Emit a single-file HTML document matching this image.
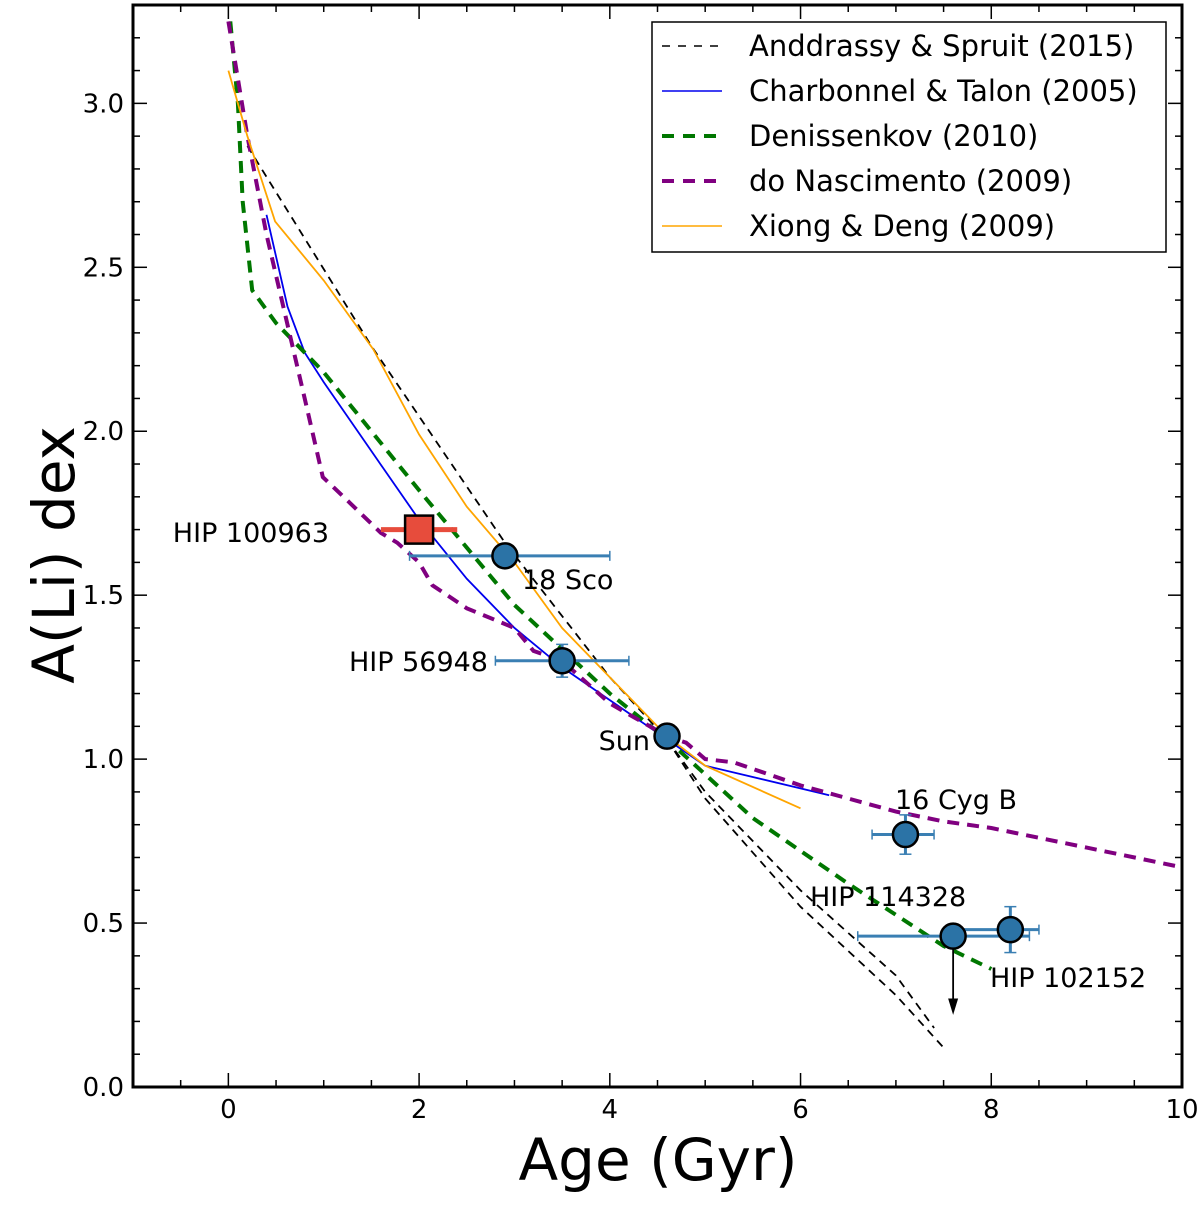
<!DOCTYPE html>
<html><head><meta charset="utf-8"><style>
html,body{margin:0;padding:0;background:#fff;}
svg{display:block;font-family:"DejaVu Sans","Liberation Sans",sans-serif;}
</style></head><body>
<svg id="chart" width="1200" height="1210" viewBox="0 0 1200 1210"></svg>
<script>
// ---- data ----
const xTicks = [0, 2, 4, 6, 8, 10];
const yTicks = [0.0, 0.5, 1.0, 1.5, 2.0, 2.5, 3.0];
const andA_x = [0.2, 1.5, 2.9, 4.0, 4.6, 5.0, 6.0, 7.0, 7.5];
const andA_y = [2.87, 2.26, 1.66, 1.25, 1.06, 0.88, 0.55, 0.28, 0.12];
const andB_x = [4.6, 5.0, 6.0, 7.0, 7.4];
const andB_y = [1.06, 0.9, 0.6, 0.34, 0.18];
const ct_x = [0.4, 0.62, 0.8, 1.0, 1.57, 2.0, 2.5, 3.0, 3.5, 4.0, 4.6, 5.0, 6.3];
const ct_y = [2.66, 2.38, 2.24, 2.15, 1.91, 1.73, 1.55, 1.40, 1.28, 1.18, 1.06, 0.98, 0.89];
const den_x = [0.02, 0.1, 0.15, 0.25, 0.5, 1.0, 2.0, 3.0, 4.0, 4.6, 5.5, 6.5, 7.5, 8.0];
const den_y = [3.25, 3.0, 2.7, 2.43, 2.33, 2.18, 1.82, 1.47, 1.20, 1.06, 0.82, 0.62, 0.43, 0.36];
const dn_x = [0.0, 0.2, 0.4, 0.6, 0.8, 0.99, 1.1, 1.28, 1.6, 1.77, 2.0, 2.14, 2.5, 3.0, 3.2, 3.5, 4.0, 4.6, 4.8, 5.0, 5.3, 5.6, 6.0, 6.5, 7.0, 7.5, 8.0, 9.0, 10.0];
const dn_y = [3.25, 2.9, 2.6, 2.35, 2.1, 1.86, 1.83, 1.78, 1.69, 1.66, 1.60, 1.53, 1.46, 1.40, 1.33, 1.30, 1.17, 1.07, 1.05, 1.00, 0.99, 0.96, 0.92, 0.88, 0.84, 0.81, 0.79, 0.73, 0.67];
const xd_x = [0.0, 0.2, 0.49, 1.0, 1.52, 2.0, 2.5, 3.0, 3.5, 4.0, 4.6, 5.0, 6.0];
const xd_y = [3.1, 2.9, 2.64, 2.46, 2.25, 1.99, 1.77, 1.6, 1.4, 1.25, 1.07, 0.98, 0.85];
const starNames = ["18 Sco", "HIP 56948", "Sun", "16 Cyg B", "HIP 114328", "HIP 102152"];
const starAge = [2.9, 3.5, 4.6, 7.1, 7.6, 8.2];
const starLi = [1.62, 1.30, 1.07, 0.77, 0.46, 0.48];
const starAgeLo = [1.9, 2.8, 4.6, 6.75, 6.6, 7.6];
const starAgeHi = [4.0, 4.2, 4.6, 7.4, 8.4, 8.5];
const starLiLo = [1.62, 1.25, 1.07, 0.71, 0.46, 0.41];
const starLiHi = [1.62, 1.35, 1.07, 0.83, 0.46, 0.55];
const sqName = "HIP 100963";
const sqAge = [2.0], sqLi = [1.70], sqAgeLo = [1.6], sqAgeHi = [2.4];

// ---- axes ----
const X0 = 133, X1 = 1182, Y0 = 5, Y1 = 1087;
const xmin = -1, xmax = 10, ymin = 0, ymax = 3.3;
const sx = v => X0 + (v - xmin) / (xmax - xmin) * (X1 - X0);
const sy = v => Y1 - (v - ymin) / (ymax - ymin) * (Y1 - Y0);
const NS = "http://www.w3.org/2000/svg";
const svg = document.getElementById('chart');
function mk(tag, attrs, parent) {
  const e = document.createElementNS(NS, tag);
  for (const k in attrs) e.setAttribute(k, attrs[k]);
  (parent || svg).appendChild(e);
  return e;
}
function pts(xs, ys) { return xs.map((x, i) => sx(x).toFixed(1) + ',' + sy(ys[i]).toFixed(1)).join(' '); }

const clip = mk('clipPath', {id: 'pc'});
mk('rect', {x: X0, y: Y0, width: X1 - X0, height: Y1 - Y0}, clip);
const plot = mk('g', {'clip-path': 'url(#pc)'});



function line(xs, ys, color, w, dash, name) {
  const p = mk('polyline', {points: pts(xs, ys), fill: 'none', stroke: color, 'stroke-width': w, 'stroke-dasharray': dash || 'none'}, plot);
  
  
}
line(andA_x, andA_y, '#000', 1.8, '8,6', 'andrassy-line-a');
line(andB_x, andB_y, '#000', 1.8, '8,6', 'andrassy-line-b');
line(ct_x, ct_y, '#0000ee', 1.8, null, 'charbonnel-line');
line(den_x, den_y, '#007700', 4, '12,8', 'denissenkov-line');
line(dn_x, dn_y, '#800080', 4, '12,8', 'do-nascimento-line');
line(xd_x, xd_y, '#ffa500', 1.8, null, 'xiong-line');

// error bars
const ebc = '#3a7fb3';
for (let i = 0; i < starAge.length; i++) {
  const g = mk('g', {}, plot);
  
  
  if (starAgeHi[i] > starAgeLo[i]) {
    mk('line', {x1: sx(starAgeLo[i]), x2: sx(starAgeHi[i]), y1: sy(starLi[i]), y2: sy(starLi[i]), stroke: ebc, 'stroke-width': 3}, g);
    [starAgeLo[i], starAgeHi[i]].forEach(a => mk('line', {x1: sx(a), x2: sx(a), y1: sy(starLi[i]) - 5, y2: sy(starLi[i]) + 5, stroke: ebc, 'stroke-width': 1.5}, g));
  }
  if (starLiHi[i] > starLiLo[i]) {
    mk('line', {x1: sx(starAge[i]), x2: sx(starAge[i]), y1: sy(starLiLo[i]), y2: sy(starLiHi[i]), stroke: ebc, 'stroke-width': 3}, g);
    [starLiLo[i], starLiHi[i]].forEach(l => mk('line', {x1: sx(starAge[i]) - 6, x2: sx(starAge[i]) + 6, y1: sy(l), y2: sy(l), stroke: ebc, 'stroke-width': 1.5}, g));
  }
}
mk('line', {x1: sx(sqAgeLo[0]), x2: sx(sqAgeHi[0]), y1: sy(sqLi[0]), y2: sy(sqLi[0]), stroke: '#e74c3c', 'stroke-width': 5}, plot);
const ax = sx(starAge[4]);
mk('line', {x1: ax, x2: ax, y1: sy(starLi[4]), y2: sy(0.24), stroke: '#000', 'stroke-width': 1.8}, plot);
mk('polygon', {points: `${ax - 5},${sy(0.27)} ${ax + 5},${sy(0.27)} ${ax},${sy(0.22)}`, fill: '#000'}, plot);

for (let i = 0; i < starAge.length; i++) {
  const c = mk('circle', {cx: sx(starAge[i]), cy: sy(starLi[i]), r: 12.5, fill: '#2b73a6', stroke: '#000', 'stroke-width': 2.5}, plot);
  
  
}
const sq = mk('rect', {x: sx(sqAge[0]) - 14, y: sy(sqLi[0]) - 14, width: 28, height: 28, fill: '#e74c3c', stroke: '#000', 'stroke-width': 2.5}, plot);



// labels
const labPos = [[522, 589, 'start'], [488, 671, 'end'], [650, 750, 'end'], [895, 809, 'start'], [810, 906, 'start'], [990, 987, 'start']];
starNames.forEach((n, i) => {
  const t = mk('text', {x: labPos[i][0], y: labPos[i][1], 'font-size': 27, 'text-anchor': labPos[i][2], fill: '#000'});
  t.textContent = n;
  
  
});
const sl = mk('text', {x: 329, y: 542, 'font-size': 27, 'text-anchor': 'end'});
sl.textContent = sqName;



// ticks
const tg = mk('g', {stroke: '#000', 'stroke-width': 1.5});


for (let v = -1; v <= 10.001; v += 0.5) {
  const major = Math.abs(v - Math.round(v / 2) * 2) < 1e-6;
  const L = major ? 14 : 7;
  mk('line', {x1: sx(v), x2: sx(v), y1: Y1, y2: Y1 - L}, tg);
  mk('line', {x1: sx(v), x2: sx(v), y1: Y0, y2: Y0 + L}, tg);
}
for (let k = 0; k <= 33; k++) {
  const v = k / 10;
  const L = (k % 5 === 0) ? 14 : 7;
  mk('line', {x1: X0, x2: X0 + L, y1: sy(v), y2: sy(v)}, tg);
  mk('line', {x1: X1, x2: X1 - L, y1: sy(v), y2: sy(v)}, tg);
}
xTicks.forEach(v => {
  const t = mk('text', {x: sx(v), y: 1118, 'font-size': 26, 'text-anchor': 'middle'});
  t.textContent = String(v);
  
  
});
yTicks.forEach(v => {
  const t = mk('text', {x: 124, y: sy(v) + 9, 'font-size': 26, 'text-anchor': 'end'});
  t.textContent = v.toFixed(1);
  
  
});
const fr = mk('rect', {x: X0, y: Y0, width: X1 - X0, height: Y1 - Y0, fill: 'none', stroke: '#000', 'stroke-width': 3});



const xt = mk('text', {x: 658, y: 1180, 'font-size': 58, 'text-anchor': 'middle'});
xt.textContent = 'Age (Gyr)';


const yt = mk('text', {x: 0, y: 0, 'font-size': 58, 'text-anchor': 'middle', transform: 'translate(74,555) rotate(-90)'});
yt.textContent = 'A(Li) dex';



// legend
const lg = mk('g', {});


mk('rect', {x: 652, y: 22, width: 514, height: 230, fill: '#fff', stroke: '#000', 'stroke-width': 1.5}, lg);
const legNames = ['Anddrassy & Spruit (2015)', 'Charbonnel & Talon (2005)', 'Denissenkov (2010)', 'do Nascimento (2009)', 'Xiong & Deng (2009)'];
const legCol = ['#000', '#0000ee', '#007700', '#800080', '#ffa500'];
const legW = [1.5, 1.5, 4, 4, 1.5];
const legDash = ['8,8', 'none', '12,9', '12,9', 'none'];
legNames.forEach((n, i) => {
  const y = 46 + i * 45;
  const e = mk('g', {}, lg);
  
  
  mk('line', {x1: 662, x2: 722, y1: y, y2: y, stroke: legCol[i], 'stroke-width': legW[i], 'stroke-dasharray': legDash[i]}, e);
  const t = mk('text', {x: 749, y: y + 10, 'font-size': 29, textLength: 0}, e);
  t.removeAttribute('textLength');
  t.textContent = n;
});
</script>
</body></html>
